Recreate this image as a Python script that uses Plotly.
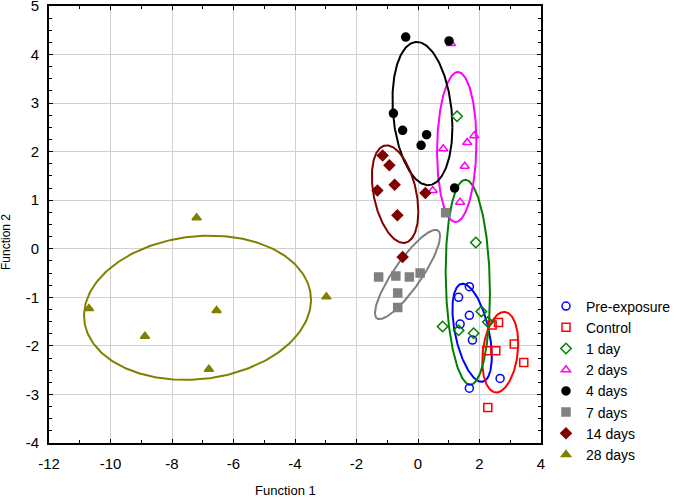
import numpy as np
import plotly.graph_objects as go

groups = ["Pre-exposure", "Control", "1 day", "2 days", "4 days", "7 days", "14 days", "28 days"]
colors = ["#0000ff", "#ff0000", "#008000", "#ff00ff", "#000000", "#808080", "#800000", "#808000"]
symbols = ["circle-open", "square-open", "diamond-open", "triangle-up-open",
           "circle", "square", "diamond", "triangle-up"]

pre_x = [1.67, 1.32, 1.67, 1.37, 1.77, 2.67, 1.67]
pre_y = [-0.78, -1.00, -1.37, -1.55, -1.88, -2.67, -2.87]
ctl_x = [2.62, 2.41, 3.13, 2.24, 2.53, 3.44, 2.27]
ctl_y = [-1.52, -1.57, -1.96, -2.10, -2.10, -2.34, -3.27]
d1_x = [1.27, 1.88, 0.80, 1.32, 2.06, 1.81, 2.27]
d1_y = [2.73, 0.13, -1.60, -1.68, -1.29, -1.74, -1.51]
d2_x = [1.07, 1.83, 0.82, 1.60, 1.52, 0.48, 1.37]
d2_y = [4.23, 2.33, 2.06, 2.19, 1.70, 1.20, 0.96]
d4_x = [-0.40, 1.01, -0.80, -0.50, 0.28, 0.10, 1.19]
d4_y = [4.36, 4.28, 2.79, 2.44, 2.35, 2.13, 1.25]
d7_x = [0.90, -1.28, -0.72, -0.28, 0.07, -0.66, -0.66]
d7_y = [0.74, -0.58, -0.56, -0.58, -0.50, -0.91, -1.21]
d14_x = [-1.15, -0.93, -0.76, -1.32, 0.24, -0.67, -0.50]
d14_y = [1.92, 1.72, 1.32, 1.20, 1.15, 0.69, -0.17]
d28_x = [-7.20, -2.98, -10.70, -6.55, -8.88, -6.80]
d28_y = [0.64, -0.99, -1.23, -1.27, -1.80, -2.48]

xs = [pre_x, ctl_x, d1_x, d2_x, d4_x, d7_x, d14_x, d28_x]
ys = [pre_y, ctl_y, d1_y, d2_y, d4_y, d7_y, d14_y, d28_y]

# ellipse parameters: centre x, centre y, half-width x, half-height y, correlation
ell_cx = [1.76, 2.675, 1.62, 1.26, 0.145, -0.34, -0.745, -7.17]
ell_cy = [-1.73, -2.13, -0.69, 2.095, 2.785, -0.53, 1.125, -1.215]
ell_sx = [0.64, 0.585, 0.72, 0.64, 0.975, 1.06, 0.755, 3.69]
ell_sy = [1.01, 0.83, 2.11, 1.545, 1.475, 0.92, 1.005, 1.485]
ell_r = [-0.48, 0.22, -0.11, 0.06, -0.19, 0.86, -0.36, 0.11]

x_ticks = list(range(-12, 5, 2))
y_ticks = list(range(-4, 6))
x_title = "Function 1"
y_title = "Function 2"

FONT = "Liberation Sans, Arial"

fig = go.Figure()
t = np.linspace(0, 2 * np.pi, 241)
for i in range(len(groups)):
    ex = ell_cx[i] + ell_sx[i] * np.cos(t)
    ey = ell_cy[i] + ell_sy[i] * (ell_r[i] * np.cos(t) + np.sqrt(1 - ell_r[i] ** 2) * np.sin(t))
    fig.add_trace(go.Scatter(x=ex, y=ey, mode="lines", line=dict(color=colors[i], width=2),
                             showlegend=False, hoverinfo="skip"))

for i in range(len(groups)):
    fig.add_trace(go.Scatter(
        x=xs[i], y=ys[i], mode="markers", name=groups[i],
        marker=dict(symbol=symbols[i], color=colors[i], size=8,
                    line=dict(width=1.5, color=colors[i]))))

axis_common = dict(showline=True, linecolor="black", linewidth=2, mirror="ticks",
                   ticks="inside", ticklen=4, tickwidth=1, tickcolor="black",
                   showgrid=True, gridcolor="#cfcfcf", gridwidth=1, zeroline=False,
                   ticklabeloverflow="allow", automargin=False,
                   tickfont=dict(family=FONT, size=15, color="black"))

fig.update_xaxes(range=[-12, 4], tickvals=x_ticks, ticktext=[str(v) for v in x_ticks],
                 minor=dict(dtick=1, ticks="inside", ticklen=3, tickcolor="black", showgrid=False),
                 ticklabelstandoff=6,
                 **axis_common)
fig.update_yaxes(range=[-4, 5], tickvals=y_ticks, ticktext=[str(v) for v in y_ticks],
                 minor=dict(dtick=0.25, ticks="inside", ticklen=3, tickcolor="black", showgrid=False),
                 ticklabelstandoff=5,
                 **axis_common)

fig.add_annotation(text=x_title, xref="paper", yref="paper", x=(285 - 49) / 492, y=-(490 - 443) / 437,
                   showarrow=False, xanchor="center", yanchor="middle",
                   font=dict(family=FONT, size=13, color="black"))
fig.add_annotation(text=y_title, xref="paper", yref="paper", x=-(49 - 6) / 492, y=(443 - 242) / 437,
                   showarrow=False, xanchor="center", yanchor="middle", textangle=-90,
                   font=dict(family=FONT, size=12, color="black"))

fig.update_layout(
    width=685, height=499,
    margin=dict(l=49, r=144, t=6, b=56),
    plot_bgcolor="white", paper_bgcolor="white",
    showlegend=True,
    legend=dict(xref="container", x=546 / 685, y=0.349, xanchor="left", yanchor="top",
                font=dict(family=FONT, size=14, color="black"),
                tracegroupgap=0, itemwidth=30, bgcolor="rgba(0,0,0,0)"),
)

fig.write_html("out.html", post_script="document.body.style.margin='0';",
               config={"displayModeBar": False})
